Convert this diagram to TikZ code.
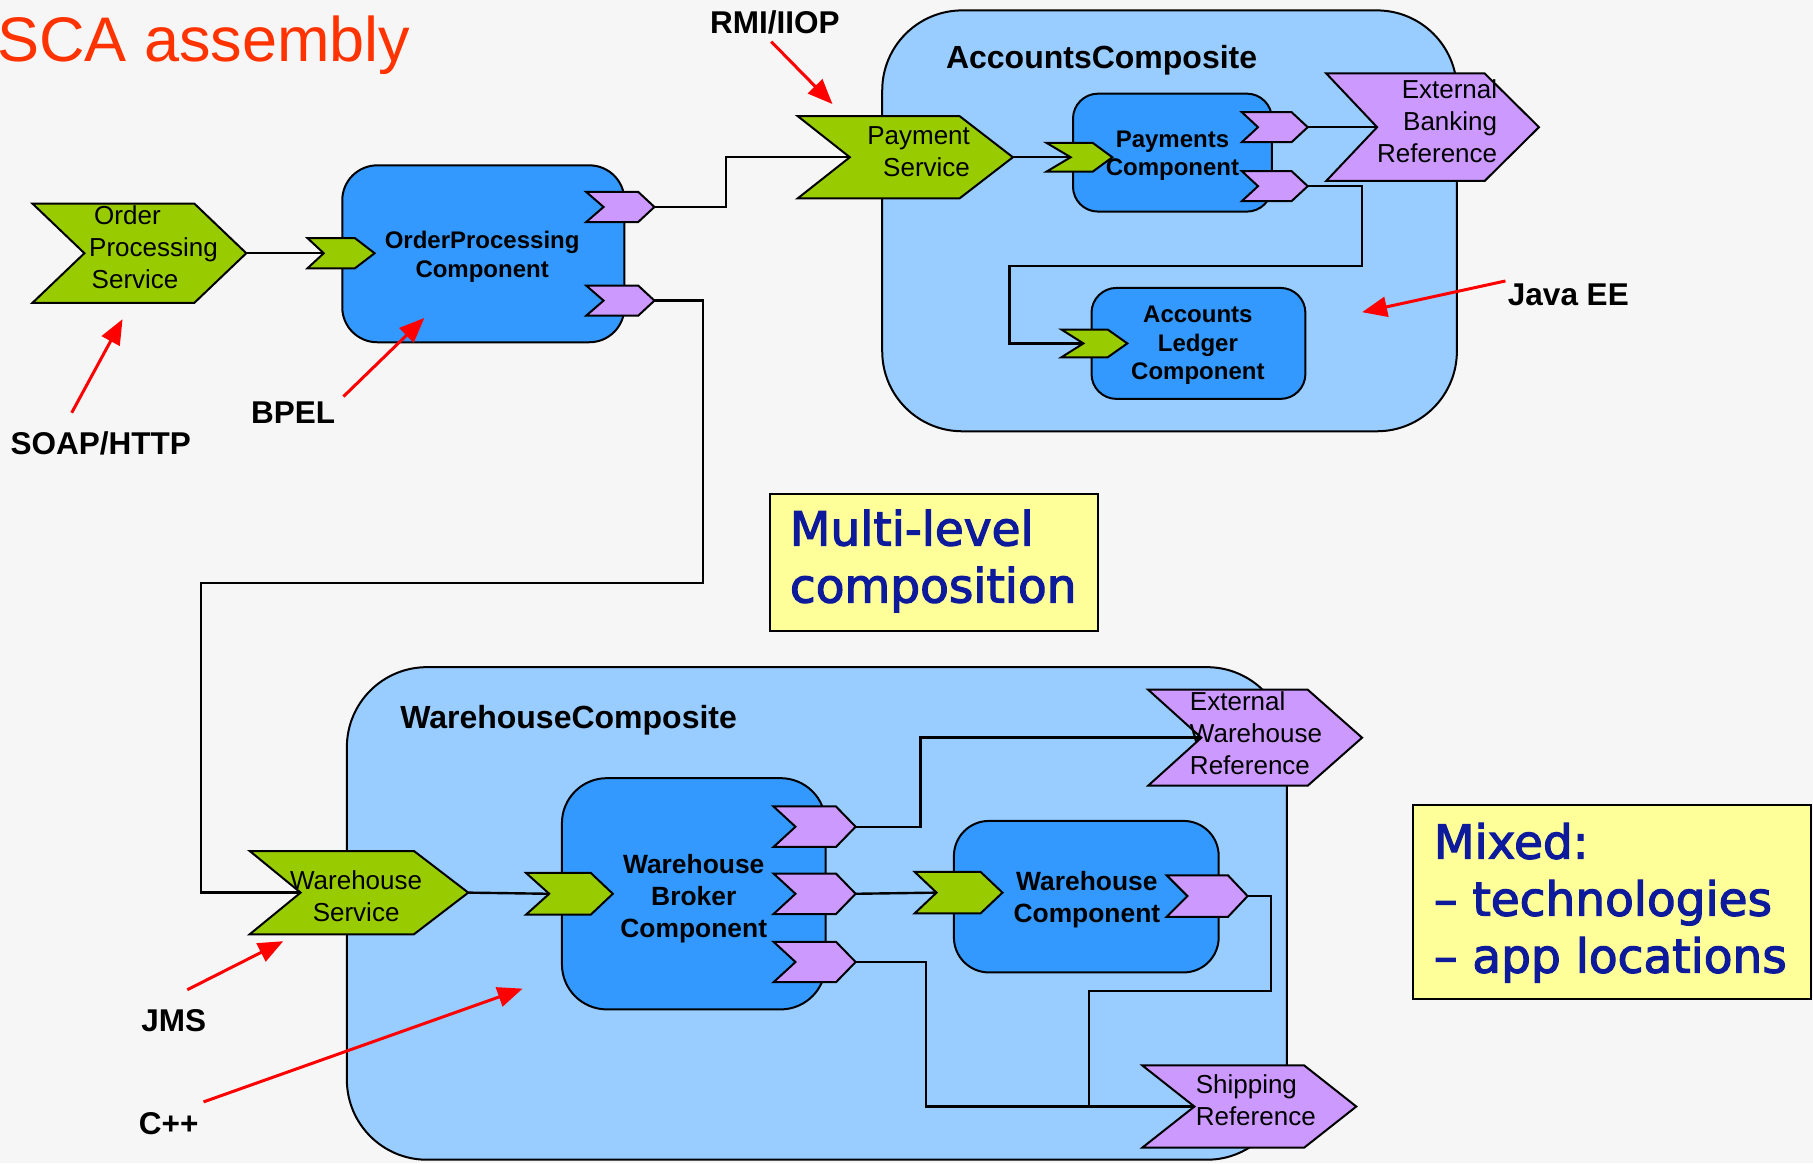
\documentclass[tikz,border=0pt]{standalone}
\usepackage{fontspec}
\setmainfont{Liberation Sans}
\newfontfamily\notefont[FakeBold=2.5]{DejaVu Sans}
\usetikzlibrary{arrows.meta,fit}

\definecolor{scagreen}{RGB}{153,204,0}
\definecolor{scablue}{RGB}{51,153,255}
\definecolor{scasky}{RGB}{153,204,255}
\definecolor{scaviolet}{RGB}{204,153,255}
\definecolor{notebg}{RGB}{255,255,153}
\definecolor{noteink}{RGB}{13,26,156}
\definecolor{titleink}{RGB}{255,51,0}
\definecolor{paper}{RGB}{246,246,246}

% chevron: name, left x, centre y, width, height, tip depth, notch depth, style
\newcommand\chevron[8]{%
  \draw[#8] (#2,#3-#5/2) -- (#2+#4-#6,#3-#5/2) -- (#2+#4,#3)
     -- (#2+#4-#6,#3+#5/2) -- (#2,#3+#5/2) -- (#2+#7,#3) -- cycle;
  \coordinate (#1-in) at (#2+#7,#3);
  \coordinate (#1-out) at (#2+#4,#3);}

\tikzset{
  svc/.style={fill=scagreen, draw=black, line width=2pt},
  refc/.style={fill=scaviolet, draw=black, line width=2pt},
  composite/.style={fill=scasky, draw=black, line width=2pt, inner sep=0pt, rounded corners=80pt},
  comp/.style={fill=scablue, draw=black, line width=2pt, inner sep=0pt},
  notebox/.style={fill=notebg, draw=black, line width=2pt, inner sep=0pt},
  notetext/.style={inner sep=0pt, align=left, text=noteink, font=\notefont\fontsize{47}{57}\selectfont},
  wire/.style={draw=black, line width=2.4pt},
  callout/.style={draw=red, line width=3pt, -{Triangle[length=25pt,width=20pt]}},
  tag/.style={inner sep=0pt, anchor=base west, font=\bfseries\fontsize{31.5}{36}\selectfont},
  body/.style={inner sep=0pt, font=\fontsize{26}{32}\selectfont},
  ctext/.style={inner sep=0pt, align=center, font=\bfseries\fontsize{24}{28.5}\selectfont},
  wtext/.style={inner sep=0pt, align=center, font=\bfseries\fontsize{26.4}{32}\selectfont},
  ctitle/.style={inner sep=0pt, anchor=base west, font=\bfseries\fontsize{32}{38}\selectfont},
}

\begin{document}
\begin{tikzpicture}[x=1.15625pt,y=-1.15625pt]
\fill[paper] (0,0) rectangle (1568,1006);
\useasboundingbox (0,0) rectangle (1568,1006);

% composites
\node[composite, fit={(763,9) (1260,373)}] (acc) {};
\node[composite, fit={(300,577) (1113,1003)}] (whc) {};
\node[ctitle] (acc-t) at (818,59) {AccountsComposite};
\node[ctitle] (whc-t) at (346,630) {WarehouseComposite};

% components
\node[comp, rounded corners=35pt, fit={(296,143) (540,296)}] (opc) {};
\node[comp, rounded corners=25pt, fit={(928,81) (1100,183)}] (pc) {};
\node[comp, rounded corners=25pt, fit={(944,249) (1129,345)}] (alc) {};
\node[comp, rounded corners=45pt, fit={(486,673) (714,873)}] (wbc) {};
\node[comp, rounded corners=35pt, fit={(825,710) (1054,841)}] (wc) {};

% end points of the wires
\coordinate (ops-out) at (213,219);
\coordinate (opc-s-in) at (280,219);
\coordinate (opc-r1-out) at (566,179);
\coordinate (opc-r2-out) at (566,260);
\coordinate (pays-in) at (735,136);
\coordinate (pays-out) at (876,136);
\coordinate (pc-s-in) at (926,136);
\coordinate (pc-r1-out) at (1131,110);
\coordinate (pc-r2-out) at (1131,161);
\coordinate (ebr-in) at (1191,110);
\coordinate (alc-s-in) at (937,297);
\coordinate (whs-in) at (260,772);
\coordinate (whs-out) at (405,772);
\coordinate (wbc-s-in) at (475,773);
\coordinate (wbc-r1-out) at (740,715);
\coordinate (wbc-r2-out) at (740,773);
\coordinate (wbc-r3-out) at (740,832);
\coordinate (wc-s-in) at (810,772);
\coordinate (wc-r-out) at (1079,775);
\coordinate (ewr-in) at (1039,638);
\coordinate (shr-in) at (1033,957);

% wires (drawn below the chevrons)
\draw[wire] (ops-out) -- (opc-s-in);
\draw[wire] (opc-r1-out) -- ++(62,0) |- (pays-in);
\draw[wire] (opc-r2-out) -| (608,504) -- (174,504) |- (whs-in);
\draw[wire] (pays-out) -- (pc-s-in);
\draw[wire] (pc-r1-out) -- (ebr-in);
\draw[wire] (pc-r2-out) -| (1178,230) -- (873,230) |- (alc-s-in);
\draw[wire] (whs-out) -- (wbc-s-in);
\draw[wire] (wbc-r1-out) -- ++(56,0) |- (ewr-in);
\draw[wire] (wbc-r2-out) -- (wc-s-in);
\draw[wire] (wbc-r3-out) -- ++(61,0) |- (shr-in);
\draw[wire] (wc-r-out) -| (1099,857) -| (942,957);

% services and references of the assembly
\chevron{ops}{28}{219}{185}{86}{45}{45}{svc}
\chevron{pays}{690}{136}{186}{71}{46}{45}{svc}
\chevron{whs}{216}{772}{189}{72}{47}{44}{svc}
\chevron{ebr}{1147}{110}{184}{93}{47}{44}{refc}
\chevron{ewr}{993}{638}{185}{83}{47}{46}{refc}
\chevron{shr}{988}{957}{185}{71}{45}{45}{refc}

% component ports
\chevron{opc-s}{266}{219}{58}{26}{17}{14}{svc}
\chevron{opc-r1}{507}{179}{59}{26}{14}{15}{refc}
\chevron{opc-r2}{507}{260}{59}{26}{14}{15}{refc}
\chevron{pc-s}{905}{136}{57}{25}{17}{21}{svc}
\chevron{pc-r1}{1074}{110}{57}{26}{14}{14}{refc}
\chevron{pc-r2}{1074}{161}{57}{26}{14}{14}{refc}
\chevron{alc-s}{918}{297}{57}{24}{17}{19}{svc}
\chevron{wbc-s}{455}{773}{75}{36}{19}{20}{svc}
\chevron{wbc-r1}{669}{715}{71}{35}{17}{19}{refc}
\chevron{wbc-r2}{669}{773}{71}{35}{17}{19}{refc}
\chevron{wbc-r3}{669}{832}{71}{35}{17}{19}{refc}
\chevron{wc-s}{791}{772}{76}{36}{19}{19}{svc}
\chevron{wc-r}{1009}{775}{70}{36}{17}{18}{refc}

% texts of services and references
\node[body, align=left, anchor=west] (ops-t) at (77,214) {\hspace*{5pt}Order\\Processing\\\hspace*{2.5pt}Service};
\node[body, align=right, anchor=east] (pays-t) at (839,131) {Payment\\Service};
\node[body, align=center] (whs-t) at (308,775) {Warehouse\\Service};
\node[body, align=right, anchor=east] (ebr-t) at (1295,104.5) {External\\Banking\\Reference};
\node[body, align=left, anchor=west] (ewr-t) at (1029,634.5) {External\\Warehouse\\Reference};
\node[body, align=left, anchor=west] (shr-t) at (1034,951.5) {Shipping\\Reference};

% texts of components
\node[ctext] (opc-t) at (417,222) {OrderProcessing\\Component};
\node[ctext] (pc-t) at (1014,134.5) {Payments\\Component};
\node[ctext] (alc-t) at (1036,299) {Accounts\\Ledger\\Component};
\node[wtext] (wbc-t) at (600,777) {Warehouse\\Broker\\Component};
\node[wtext] (wc-t) at (940,777.7) {Warehouse\\Component};

% notes
\node[notebox, fit={(666,427) (950,546)}] (mlbox) {};
\node[notetext, anchor=west] (ml-t) at (683,485.2) {Multi-level\\composition};
\node[notebox, fit={(1222,696) (1566,864)}] (mixbox) {};
\node[notetext, anchor=west] (mix-t) at (1240,780.7) {Mixed:\\– technologies\\– app locations};

% title
\node[inner sep=0pt, anchor=base west, text=titleink, font=\fontsize{63}{70}\selectfont] (title) at (-2.6,53.6) {SCA assembly};

% technology tags and their call-outs
\node[tag] (rmi) at (614,29) {RMI/IIOP};
\node[tag] (soap) at (9,393) {SOAP/HTTP};
\node[tag] (bpel) at (217,366) {BPEL};
\node[tag] (javaee) at (1304,264) {Java EE};
\node[tag] (jms) at (122,892) {JMS};
\node[tag] (cpp) at (120,981) {C++};

\coordinate (rmi-a) at (667,36);   \coordinate (rmi-b) at (720,90);
\coordinate (soap-a) at (62,357);  \coordinate (soap-b) at (106,276);
\coordinate (bpel-a) at (297,343); \coordinate (bpel-b) at (367,275);
\coordinate (java-a) at (1302,243);\coordinate (java-b) at (1178,270);
\coordinate (jms-a) at (162,856);  \coordinate (jms-b) at (245,814);
\coordinate (cpp-a) at (176,953);  \coordinate (cpp-b) at (452,855);

\draw[callout] (rmi-a) -- (rmi-b);
\draw[callout] (soap-a) -- (soap-b);
\draw[callout] (bpel-a) -- (bpel-b);
\draw[callout] (java-a) -- (java-b);
\draw[callout] (jms-a) -- (jms-b);
\draw[callout] (cpp-a) -- (cpp-b);
\end{tikzpicture}
\end{document}
